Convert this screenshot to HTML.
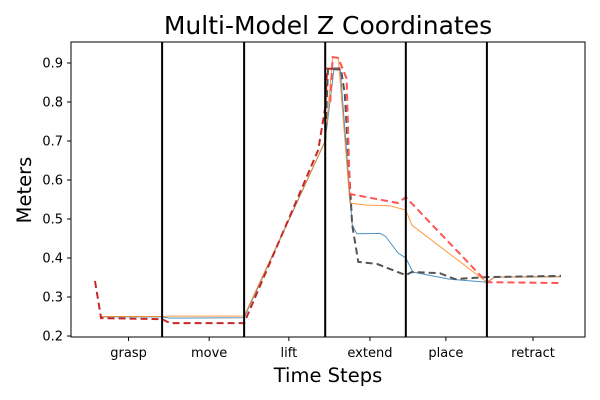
<!DOCTYPE html>
<html><head><meta charset="utf-8"><style>body{margin:0;background:#fff}svg{display:block;font-family:"DejaVu Sans","Liberation Sans",sans-serif}</style></head>
<body>
<svg id="c" width="600" height="400" viewBox="0 0 600 400">
<text x="328" y="34" font-size="25" text-anchor="middle">Multi-Model Z Coordinates</text>
<text x="328" y="382" font-size="19.5" text-anchor="middle">Time Steps</text>
<text transform="translate(31,190) rotate(-90)" font-size="19.5" text-anchor="middle">Meters</text>
<g id="plot"></g>
<rect x="71" y="42" width="514" height="295" fill="none" stroke="#000" stroke-width="1"/>
</svg>
<script>
const phases=["grasp","move","lift","extend","place","retract"];
const phaseTicks=[7.2,24.5,41.6,59,75.3,94];
const boundaries=[14.4,32,49.4,66.7,84.1];
const yTicks=[0.2,0.3,0.4,0.5,0.6,0.7,0.8,0.9];
const blueT=[1,14.4,16,32,49.4,51.3,52.6,55.2,56.2,61.2,62.4,65,66.7,68.2,76,84.1,85.8,100];
const blueV=[0.249,0.249,0.246,0.247,0.70,0.888,0.888,0.485,0.462,0.463,0.455,0.413,0.40,0.364,0.346,0.338,0.351,0.352];
const orangeT=[1,14.4,16,32,49.4,51,52.2,54.7,57.9,63.2,66.7,68,84.1,85.8,100];
const orangeV=[0.25,0.25,0.251,0.251,0.70,0.915,0.913,0.541,0.536,0.534,0.523,0.484,0.338,0.351,0.352];
const grayT=[49.4,50,52.8,53.6,55.2,56.5,60.5,63.7,66.7,68,74,77.2,84.1,100];
const grayV=[0.70,0.885,0.883,0.82,0.485,0.39,0.385,0.37,0.356,0.364,0.361,0.346,0.351,0.354];
const lredT=[50.5,51,52.2,54,54.7,65,66.7,84.1,100];
const lredV=[0.80,0.915,0.913,0.86,0.564,0.541,0.556,0.338,0.336];
const redT=[0,1.3,14.4,16.1,32,47.9,49.4,49.8,52.6];
const redV=[0.341,0.246,0.243,0.233,0.233,0.677,0.785,0.885,0.885];
const X=t=>95+t*4.66, Y=v=>336-(v-0.2)*390;
const g=document.getElementById('plot'),NS='http://www.w3.org/2000/svg';
function mk(tag,at){const e=document.createElementNS(NS,tag);for(const k in at)e.setAttribute(k,at[k]);g.appendChild(e);return e;}
yTicks.forEach(v=>{
 const l=mk('line',{x1:67,x2:71,y1:Y(v),y2:Y(v),stroke:'#000'});
 
 
 const t=mk('text',{x:63,y:Y(v)+4.5,'font-size':13,'text-anchor':'end'});t.textContent=v.toFixed(1);
 
 
});
phases.forEach((p,i)=>{
 const x=X(phaseTicks[i]);
 const l=mk('line',{x1:x,x2:x,y1:337,y2:341,stroke:'#000'});
 
 
 const t=mk('text',{x:x,y:357,'font-size':13,'text-anchor':'middle'});t.textContent=p;
 
 
});
function series(T,V,color,w,dash,name,op){
 const d=T.map((t,i)=>(i?'L':'M')+X(t).toFixed(1)+' '+Y(V[i]).toFixed(1)).join(' ');
 const p=mk('path',{d:d,fill:'none',stroke:color,'stroke-width':w,'stroke-dasharray':dash||'none','stroke-opacity':op||1});
 
 
}
series(blueT,blueV,'#1f77b4',1,'','series-blue',0.8);
series(orangeT,orangeV,'#ff7f0e',1,'','series-orange',0.8);
series(grayT,grayV,'#555',2,'7,4','series-gray-dashed',1);
series(lredT,lredV,'#ff5555',2,'7,4','series-light-red-dashed',1);
series(redT,redV,'#c62828',2,'7,4','series-red-dashed',1);
boundaries.forEach(b=>{
 const l=mk('line',{x1:X(b),x2:X(b),y1:42,y2:337,stroke:'#000','stroke-width':2});
 
 
});
</script>
</body></html>
